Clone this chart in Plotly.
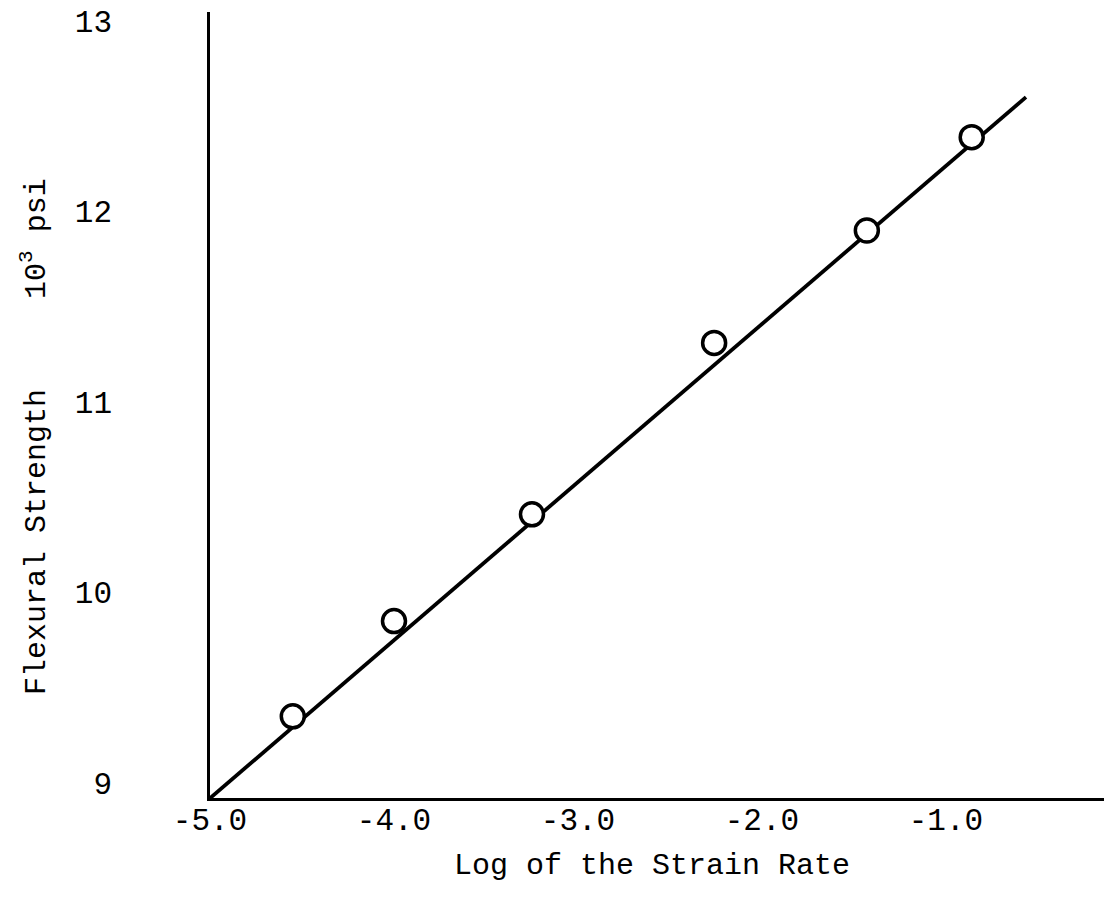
import plotly.graph_objects as go

# Measured flexural strength (10^3 psi) against log of the strain rate
log_strain_rate = [-4.55, -4.0, -3.25, -2.26, -1.43, -0.86]
flexural_strength = [9.35, 9.85, 10.41, 11.31, 11.90, 12.39]

# End points of the fitted straight line
fit_x = [-5.0, -0.565]
fit_y = [8.92, 12.60]

x_ticks = [-5, -4, -3, -2, -1]
x_tick_text = ["-5.0", "-4.0", "-3.0", "-2.0", "-1.0"]
y_ticks = [9, 10, 11, 12, 13]
y_tick_text = ["9", "10", "11", "12", "13"]

FONT = "Liberation Mono, Courier New, monospace"

fig = go.Figure()

fig.add_trace(go.Scatter(
    x=fit_x, y=fit_y, mode="lines",
    line=dict(color="black", width=3.8),
    hoverinfo="skip", showlegend=False,
))

fig.add_trace(go.Scatter(
    x=log_strain_rate, y=flexural_strength, mode="markers",
    marker=dict(symbol="circle", size=23, color="white",
                line=dict(color="black", width=3.5)),
    showlegend=False,
))

fig.update_layout(
    width=1107, height=898,
    margin=dict(l=210, r=3, t=12, b=100),
    paper_bgcolor="white", plot_bgcolor="white",
    font=dict(family=FONT, size=30, color="black"),
    xaxis=dict(
        range=[-5.0, -0.141],
        tickvals=x_ticks, ticktext=x_tick_text,
        showgrid=False, zeroline=False,
        showline=True, linecolor="black", linewidth=2.5,
        ticks="", ticklabelstandoff=-8,
        tickfont=dict(family=FONT, size=31, color="black"),
    ),
    yaxis=dict(
        range=[8.921, 13.047],
        tickvals=y_ticks, ticktext=y_tick_text,
        showgrid=False, zeroline=False,
        showline=True, linecolor="black", linewidth=2.5,
        ticks="", ticklabelstandoff=89,
        tickfont=dict(family=FONT, size=31, color="black"),
    ),
    annotations=[
        dict(
            text="Log of the Strain Rate",
            xref="paper", yref="paper",
            x=(652 - 210) / 894, y=-(866 - 798) / 786,
            xanchor="center", yanchor="middle",
            showarrow=False,
            font=dict(family=FONT, size=30, color="black"),
        ),
        dict(
            text="Flexural Strength\u00a0\u00a0\u00a0\u00a0\u00a010<sup>3</sup>\u00a0psi",
            xref="paper", yref="paper",
            x=(35 - 210) / 894, y=(798 - 437) / 786,
            xanchor="center", yanchor="middle",
            textangle=-90, showarrow=False,
            font=dict(family=FONT, size=30, color="black"),
        ),
    ],
)

fig.write_html("out.html")
